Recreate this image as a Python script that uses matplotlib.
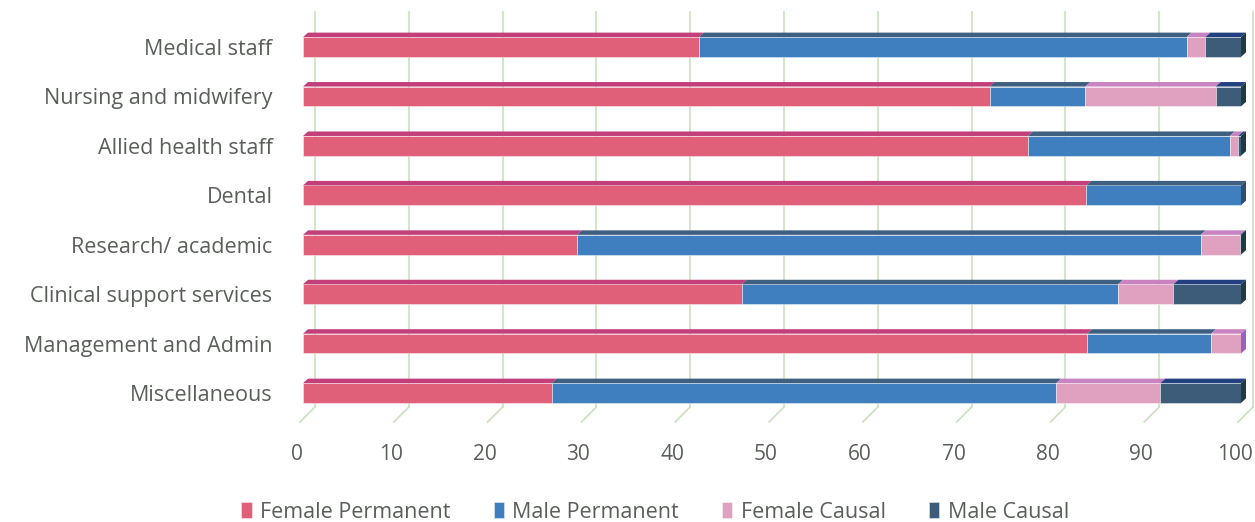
import numpy as np
import matplotlib.pyplot as plt
from matplotlib.patches import Polygon
from matplotlib.transforms import ScaledTranslation

categories = ["Medical staff", "Nursing and midwifery", "Allied health staff", "Dental",
              "Research/ academic", "Clinical support services", "Management and Admin",
              "Miscellaneous"]
female_perm = [42.2, 73.2, 77.3, 83.5, 29.2, 46.8, 83.6, 26.5]
male_perm = [52.0, 10.2, 21.5, 16.5, 66.5, 40.1, 13.2, 53.8]
female_causal = [2.0, 13.9, 0.9, 0.0, 4.2, 5.9, 3.2, 11.1]
male_causal = [3.8, 2.7, 0.3, 0.0, 0.1, 7.2, 0.0, 8.6]
series_names = ["Female Permanent", "Male Permanent", "Female Causal", "Male Causal"]
xticks = [0, 10, 20, 30, 40, 50, 60, 70, 80, 90, 100]

face = ["#e06079", "#3f7fbf", "#e0a0c0", "#3d5c7a"]
top = ["#c23f7a", "#3f5f80", "#c883c0", "#223f80"]
side = ["#a8305a", "#2c4f70", "#9b5fc0", "#1f3a40"]
text_col = "#5a5f5a"
grid_col = "#c9e2bd"

plt.rcParams['font.family'] = ['Open Sans', 'DejaVu Sans']

W, H = 1255, 522
fig = plt.figure(figsize=(W / 100, H / 100), dpi=100)
# axes: x 0 -> px 303, 100 -> px 1241 ; bar centres 47 .. 393 px
ax = fig.add_axes([303 / W, 1 - 423 / H, (1241 - 303) / W, (423 - 12) / H])
px_x = 100 / (1241 - 303)
px_y = 1 / 49.43
ytop = -35 * px_y
ax.set_xlim(0, 100)
ax.set_ylim(ytop + 411 * px_y, ytop)

y = np.arange(len(categories))
yback = ytop + 395 * px_y
# back wall grid + floor diagonals
for v in xticks:
    xb = v + 12 * px_x
    ax.plot([xb, xb], [ytop, yback], color=grid_col, lw=1.2, zorder=0, clip_on=False)
    ax.plot([xb, v - 3 * px_x], [yback, yback + 15 * px_y], color=grid_col, lw=1.2,
            zorder=0, clip_on=False)

data = [female_perm, male_perm, female_causal, male_causal]
bh = 0.4
dx, dy = 5 * px_x, 4.5 * px_y
left = np.zeros(len(categories))
for k, vals in enumerate(data):
    vals = np.array(vals)
    ax.barh(y, vals, left=left, height=bh, color=face[k], edgecolor=(1, 1, 1, 0.5),
            lw=0.6, label=series_names[k], zorder=3)
    for i in range(len(categories)):
        if vals[i] <= 0:
            continue
        x0, x1 = left[i], left[i] + vals[i]
        yt = y[i] - bh / 2
        ax.add_patch(Polygon([(x0, yt), (x1, yt), (x1 + dx, yt - dy), (x0 + dx, yt - dy)],
                             closed=True, color=top[k], lw=0, zorder=3, clip_on=False))
    left = left + vals

# right side faces at bar ends
for i in range(len(categories)):
    last = max(k for k in range(4) if data[k][i] > 0)
    x1 = left[i]
    yt, yb = y[i] - bh / 2, y[i] + bh / 2
    ax.add_patch(Polygon([(x1, yt), (x1 + dx, yt - dy), (x1 + dx, yb - dy), (x1, yb)],
                         closed=True, color=side[last], lw=0, zorder=3, clip_on=False))

ax.set_yticks(y, categories)
ax.set_xticks(xticks)
ax.tick_params(axis='y', length=0, pad=22, labelsize=15.5, labelcolor=text_col)
ax.tick_params(axis='x', length=0, pad=15, labelsize=15, labelcolor=text_col)
shift = ScaledTranslation(-6 / 100, 0, fig.dpi_scale_trans)
for lab in ax.get_xticklabels():
    lab.set_transform(lab.get_transform() + shift)
for s in ax.spines.values():
    s.set_visible(False)

leg = fig.legend(loc='center', bbox_to_anchor=(0.522, 1 - 512 / H), ncol=4, frameon=False,
                 handlelength=0.47, handleheight=0.75, handletextpad=0.4, columnspacing=2.0,
                 fontsize=15.5)
for t in leg.get_texts():
    t.set_color(text_col)

fig.savefig("out.png", dpi=100)
